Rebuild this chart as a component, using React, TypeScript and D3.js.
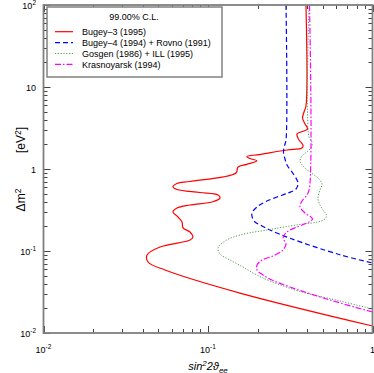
import React from 'react';
import * as d3 from 'd3';

// exclusion contours, [sin^2 2theta, dm^2 (eV^2)]
const bugey3: [number, number][] = [
  [0.394, 100], [0.394, 5.87], [0.3835, 4.96], [0.3755, 4.19], [0.3888, 3.54], [0.4026, 3.07],
  [0.3475, 2.67], [0.3574, 2.26], [0.378, 1.96], [0.3727, 1.8], [0.302, 1.705], [0.205, 1.5],
  [0.172, 1.42], [0.18, 1.34], [0.198, 1.26], [0.172, 1.14], [0.1522, 1.058], [0.148, 0.894],
  [0.0777, 0.704], [0.0648, 0.666], [0.0612, 0.608], [0.0648, 0.562], [0.0894, 0.517], [0.115, 0.482],
  [0.1183, 0.443], [0.1072, 0.399], [0.0777, 0.364], [0.0648, 0.3345], [0.0612, 0.299], [0.0657, 0.26],
  [0.0695, 0.226], [0.0705, 0.191], [0.0777, 0.1705], [0.081, 0.148], [0.0777, 0.136], [0.0511, 0.1119],
  [0.0426, 0.0894], [0.0432, 0.0734], [0.0548, 0.0587], [0.1564, 0.0307], [1.0, 0.01218],
];

const bugey4Rovno: [number, number][] = [
  [0.298, 100], [0.298, 2.26], [0.2917, 1.908], [0.2877, 1.612], [0.2938, 1.324], [0.302, 1.119],
  [0.324, 0.919], [0.3475, 0.734], [0.3524, 0.656], [0.3428, 0.57], [0.3064, 0.51], [0.2627, 0.4556],
  [0.222, 0.396], [0.1986, 0.344], [0.1851, 0.2906], [0.1864, 0.2526], [0.193, 0.226], [0.213, 0.2018],
  [0.238, 0.1804], [0.315, 0.143], [0.634, 0.09], [1.0, 0.0714],
];

const gosgenIll: [number, number][] = [
  [0.4111, 100], [0.4111, 2.456], [0.4258, 2.195], [0.4287, 1.908], [0.4054, 1.658], [0.3727, 1.44],
  [0.3625, 1.252], [0.378, 1.088], [0.417, 0.919], [0.4664, 0.7765], [0.4932, 0.656], [0.4797, 0.5545],
  [0.4664, 0.4556], [0.473, 0.385], [0.5002, 0.316], [0.5253, 0.2748], [0.5142, 0.2456], [0.4664, 0.226],
  [0.378, 0.2135], [0.315, 0.2018], [0.238, 0.183], [0.1564, 0.1567], [0.1269, 0.1324], [0.115, 0.1088],
  [0.1183, 0.0919], [0.136, 0.0777], [0.1632, 0.0638], [0.193, 0.0524], [0.238, 0.0431], [0.3625, 0.0321],
  [0.634, 0.02456], [1.0, 0.01963],
];

const krasnoyarsk: [number, number][] = [
  [0.414, 100], [0.414, 0.5865], [0.3997, 0.482], [0.3727, 0.4073], [0.3625, 0.344], [0.3888, 0.2906],
  [0.4317, 0.2456], [0.3997, 0.2196], [0.3475, 0.1963], [0.302, 0.1705], [0.2857, 0.144], [0.298, 0.1218],
  [0.2857, 0.1028], [0.2484, 0.0869], [0.213, 0.0777], [0.1986, 0.0675], [0.1986, 0.0587], [0.216, 0.051],
  [0.2449, 0.0443], [0.315, 0.0364], [0.5515, 0.02526], [1.0, 0.01804],
];

const seriesNames = [
  'Bugey\u20133 (1995)',
  'Bugey\u20134 (1994) + Rovno (1991)',
  'Gosgen (1986) + ILL (1995)',
  'Krasnoyarsk (1994)',
];
const legendTitle = '99.00% C.L.';

const xTickLabels: [number, string, string][] = [[0.01, '10', '-2'], [0.1, '10', '-1'], [1, '1', '']];
const yTickLabels: [number, string, string][] = [
  [0.01, '10', '-2'], [0.1, '10', '-1'], [1, '1', ''], [10, '10', ''], [100, '10', '2'],
];

const W = 374;
const H = 373;
const margin = { left: 43.5, right: 1.5, top: 5, bottom: 40 };
const FONT = "'Liberation Sans', Arial, Helvetica, sans-serif";

const styles = [
  { color: '#ff0000', width: 1.2, dash: undefined as string | undefined },
  { color: '#0000ff', width: 1.2, dash: '5,3' },
  { color: '#3a943a', width: 0.9, dash: '1.2,1.6' },
  { color: '#ff00ff', width: 1.2, dash: '6,2,1.5,2' },
];

export default function App() {
  const x = d3.scaleLog().domain([0.01, 1]).range([margin.left, W - margin.right]);
  const y = d3.scaleLog().domain([0.01, 100]).range([H - margin.bottom, margin.top]);
  const line = d3
    .line<[number, number]>()
    .x((d) => x(d[0]))
    .y((d) => y(d[1]))
    .curve(d3.curveCatmullRom.alpha(0.5));

  const series = [bugey3, bugey4Rovno, gosgenIll, krasnoyarsk];
  const x0 = margin.left, x1 = W - margin.right, y0 = margin.top, y1 = H - margin.bottom;

  const isMajor = (v: number) => Math.abs(Math.log10(v) - Math.round(Math.log10(v))) < 1e-6;
  const xt = x.ticks();
  const yt = y.ticks();

  return (
    <svg width={W} height={H} style={{ position: 'absolute', left: 0, top: 0 }} fontFamily={FONT}>
      <defs>
        <clipPath id="plot">
          <rect x={x0} y={y0} width={x1 - x0} height={y1 - y0} />
        </clipPath>
      </defs>
      <rect x={0} y={0} width={W} height={H} fill="#fff" />

      <g clipPath="url(#plot)" fill="none">
        {series.map((s, i) => (
          <path key={i} d={line(s) || ''} stroke={styles[i].color} strokeWidth={styles[i].width}
            strokeDasharray={styles[i].dash} />
        ))}
      </g>

      {/* ticks */}
      <g stroke="#444" strokeWidth={1}>
        {xt.map((v, i) => {
          const len = isMajor(v) ? 7 : 4;
          const px = Math.round(x(v)) + 0.5;
          return (
            <g key={'x' + i}>
              <line x1={px} x2={px} y1={y1} y2={y1 - len} />
              <line x1={px} x2={px} y1={y0} y2={y0 + len} />
            </g>
          );
        })}
        {yt.map((v, i) => {
          const len = isMajor(v) ? 7 : 4;
          const py = Math.round(y(v)) + 0.5;
          return (
            <g key={'y' + i}>
              <line x1={x0} x2={x0 + len} y1={py} y2={py} />
              <line x1={x1} x2={x1 - len} y1={py} y2={py} />
            </g>
          );
        })}
      </g>
      <rect x={x0} y={y0} width={x1 - x0} height={y1 - y0} fill="none" stroke="#808080" strokeWidth={1.8} />

      {/* tick labels */}
      <g fontSize={9} fill="#000">
        {xTickLabels.map(([v, b, e], i) => (
          <text key={i} x={x(v)} y={352.5} textAnchor="middle">
            {b}
            {e && <tspan dy={-4} fontSize={6.5}>{e}</tspan>}
          </text>
        ))}
        {yTickLabels.map(([v, b, e], i) => (
          <text key={i} x={36} y={y(v) + 3.5} textAnchor="end">
            {b}
            {e && <tspan dy={-4} fontSize={6.5}>{e}</tspan>}
          </text>
        ))}
      </g>

      {/* axis titles */}
      <text x={208} y={370} textAnchor="middle" fontSize={11} fontStyle="italic">
        sin<tspan dy={-4} fontSize={8}>2</tspan><tspan dy={4}>2&#977;</tspan>
        <tspan dy={2.5} fontSize={8}>ee</tspan>
      </text>
      <text transform="translate(25,200) rotate(-90)" textAnchor="middle" fontSize={12}>
        &#916;m<tspan dy={-4.5} fontSize={8.5}>2</tspan>
      </text>
      <text transform="translate(25,140) rotate(-90)" textAnchor="middle" fontSize={12}>
        [eV<tspan dy={-4.5} fontSize={8.5}>2</tspan><tspan dy={4.5}>]</tspan>
      </text>

      {/* legend */}
      <rect x={47} y={7} width={175} height={70} fill="#fff" stroke="#808080" strokeWidth={1.5} />
      <text x={134} y={19.5} textAnchor="middle" fontSize={9}>{legendTitle}</text>
      {seriesNames.map((n, i) => {
        const ly = 31.7 + i * 10.9;
        return (
          <g key={i}>
            <line x1={55} x2={73} y1={ly} y2={ly} stroke={styles[i].color} strokeWidth={styles[i].width}
              strokeDasharray={styles[i].dash} />
            <text x={82} y={ly + 3.2} fontSize={9}>{n}</text>
          </g>
        );
      })}
    </svg>
  );
}
